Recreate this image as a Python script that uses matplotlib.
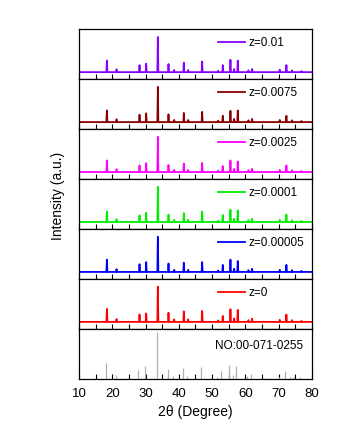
import numpy as np
import matplotlib.pyplot as plt

plt.rcParams['font.family'] = ['Liberation Sans', 'DejaVu Sans']

# Standard pattern NO:00-071-0255 (stick positions and relative heights)
ref_pos = [18.1, 21.0, 27.8, 29.8, 33.3, 36.6, 38.3, 41.2, 42.5, 46.7, 51.5, 52.8,
           55.2, 56.3, 57.3, 60.6, 61.7, 66.3, 70.0, 72.0, 73.3, 74.3, 76.5]
ref_int = [0.35, 0.09, 0.20, 0.27, 1.00, 0.22, 0.06, 0.24, 0.06, 0.25, 0.03, 0.17,
           0.30, 0.08, 0.27, 0.06, 0.10, 0.02, 0.05, 0.16, 0.04, 0.04, 0.03]

# Measured patterns (peak positions shared, heights per sample)
peak_pos = [18.4, 21.3, 28.2, 30.2, 33.7, 36.9, 38.6, 41.5, 42.8, 47.0, 51.8,
            53.2, 55.5, 56.6, 57.7, 60.9, 62.0, 70.3, 72.3, 74.0, 76.8]
int_z001 = [0.33, 0.08, 0.20, 0.24, 1.00, 0.23, 0.06, 0.27, 0.06, 0.30, 0.04,
            0.20, 0.35, 0.09, 0.33, 0.05, 0.09, 0.07, 0.20, 0.05, 0.03]
int_z00075 = [0.33, 0.08, 0.21, 0.25, 1.00, 0.22, 0.06, 0.26, 0.06, 0.29, 0.04,
              0.18, 0.32, 0.09, 0.33, 0.05, 0.09, 0.06, 0.18, 0.05, 0.03]
int_z00025 = [0.33, 0.08, 0.19, 0.25, 1.00, 0.20, 0.06, 0.24, 0.06, 0.26, 0.04,
              0.17, 0.33, 0.09, 0.30, 0.05, 0.09, 0.06, 0.19, 0.05, 0.03]
int_z00001 = [0.30, 0.08, 0.19, 0.26, 1.00, 0.21, 0.06, 0.25, 0.06, 0.30, 0.04,
              0.20, 0.35, 0.09, 0.33, 0.05, 0.09, 0.06, 0.21, 0.05, 0.03]
int_z000005 = [0.35, 0.08, 0.22, 0.28, 1.00, 0.24, 0.06, 0.26, 0.06, 0.28, 0.04,
               0.20, 0.35, 0.09, 0.31, 0.05, 0.09, 0.06, 0.20, 0.05, 0.03]
int_z0 = [0.37, 0.08, 0.21, 0.24, 1.00, 0.26, 0.07, 0.30, 0.07, 0.31, 0.04,
          0.17, 0.36, 0.10, 0.34, 0.05, 0.09, 0.06, 0.21, 0.05, 0.03]

labels = ['z=0.01', 'z=0.0075', 'z=0.0025', 'z=0.0001', 'z=0.00005', 'z=0']
series = [int_z001, int_z00075, int_z00025, int_z00001, int_z000005, int_z0]
colors = ['#8a00ff', '#8b0000', '#ff00ff', '#00ee00', '#0000ff', '#ff0000']


def spikes(pos, hts, w=0.15):
    x, y = [10], [0]
    for p, h in zip(pos, hts):
        x += [p - w, p, p + w]
        y += [0, h, 0]
    x.append(80)
    y.append(0)
    return np.array(x), np.array(y)


fig, axes = plt.subplots(7, 1, figsize=(3.62, 4.36), dpi=100, sharex=True)
fig.subplots_adjust(left=0.218, right=0.862, top=0.933, bottom=0.131, hspace=0)

for ax, lab, hts, c in zip(axes[:6], labels, series, colors):
    x, y = spikes(peak_pos, hts)
    ax.plot(x, y, color=c, lw=1.3, label=lab)
    ax.set_ylim(-0.2, 1.22)
    ax.legend(loc='upper left', bbox_to_anchor=(0.597, 0.84), frameon=False,
              handlelength=2.3, handletextpad=0.3, borderaxespad=0, borderpad=0,
              fontsize=8.5)

ax = axes[6]
ax.vlines(ref_pos, 0, ref_int, color='#b0b0b0', lw=0.9)
ax.set_ylim(0, 1.07)
ax.text(0.585, 0.66, 'NO:00-071-0255', transform=ax.transAxes, fontsize=8.5,
        va='center', ha='left')

for ax in axes:
    ax.set_xlim(10, 80)
    ax.set_yticks([])
    ax.set_xticks(np.arange(10, 81, 10))
    ax.set_xticks(np.arange(15, 80, 10), minor=True)
    ax.tick_params(axis='x', which='major', direction='in', length=3.5, width=0.8,
                   labelsize=9.5, pad=6.5)
    ax.tick_params(axis='x', which='minor', direction='in', length=3.5, width=0.8)
    for s in ax.spines.values():
        s.set_linewidth(0.9)

axes[6].set_xlabel('2θ (Degree)', fontsize=10, labelpad=4)
fig.text(0.16, 0.55, 'Intensity (a.u.)', rotation=90, fontsize=10,
         ha='center', va='center')

fig.savefig('out.png', dpi=100)
